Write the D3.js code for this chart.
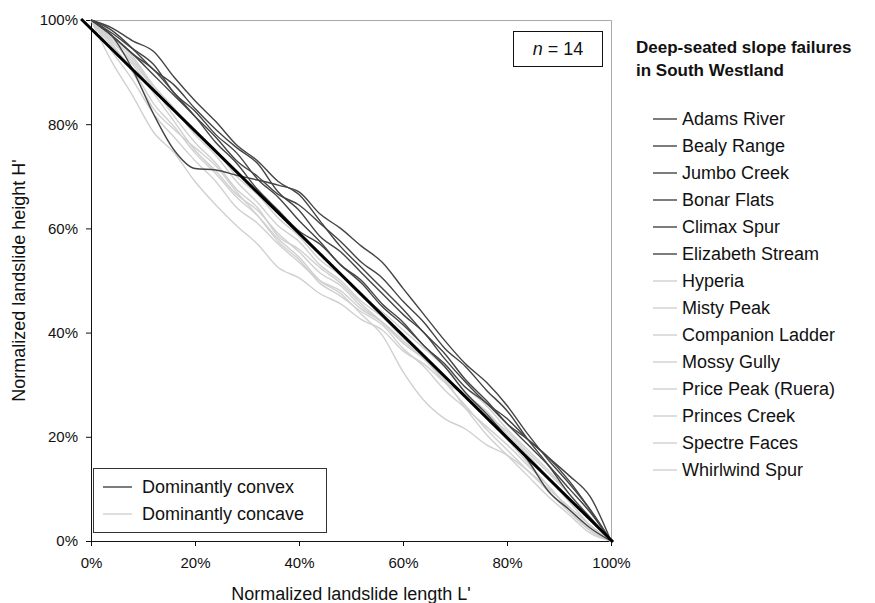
<!DOCTYPE html>
<html lang="en">
<head>
  <meta charset="utf-8">
  <title>Deep-seated slope failures</title>
  <script src="https://d3js.org/d3.v7.min.js"></script>
  <style>
    body { margin: 0; background: #fff; }
    text { font-family: Arial, "Liberation Sans", sans-serif; fill: #111; }
    path.profile { fill: none; }
  </style>
</head>
<body>
<script>
// shared x positions (normalized length L', %)
var xs = [0, 4, 8, 12, 16, 20, 24, 28, 32, 36, 40, 44, 48, 52, 56, 60, 64, 68, 72, 76, 80, 84, 88, 92, 96, 100];

// dominantly convex profiles (H', %)
var adamsRiver      = [100, 98.5, 96, 94, 89, 84.5, 80.5, 76, 73, 69, 66.5, 61.5, 56.5, 52.5, 48.5, 44.5, 40, 36, 31, 27, 22.5, 18.5, 14.5, 10, 5.5, 0];
var bealyRange      = [100, 98, 94.5, 90.5, 87.5, 83, 79, 75.5, 72.5, 67, 63.5, 58.5, 55.5, 51.5, 47.5, 43.5, 40, 35, 30.5, 26.5, 23.5, 19.5, 16, 11.5, 6, 0];
var jumboCreek      = [100, 97, 93.5, 89.5, 85.5, 81.5, 77.5, 73, 70, 66.5, 64.5, 61, 57.5, 53.5, 50.5, 46, 42, 37, 33.5, 29, 25, 19.5, 14.5, 9, 4.5, 0];
var bonarFlats      = [100, 97.5, 94.5, 91.5, 86, 82.5, 78, 74.5, 69.5, 66, 61.5, 57.5, 53, 50, 45.5, 42, 37.5, 34, 29.5, 26.5, 22.5, 19.5, 16, 12.5, 8.5, 0];
var climaxSpur      = [100, 97, 93.5, 90.5, 86, 81.5, 76.5, 72.5, 67.5, 63.5, 59.5, 57, 53, 49.5, 45, 41.5, 37.5, 33.5, 28.5, 24.5, 20, 15.5, 9.5, 6, 2.5, 0];
var elizabethStream = [100, 97, 90.5, 82, 75, 71.5, 71.2, 70.2, 69.3, 68.3, 67, 62.8, 60, 56.6, 53.5, 48.5, 43.5, 38.5, 34, 30.5, 26, 20.5, 15.5, 11, 6, 0];

// dominantly concave profiles (H', %)
var hyperia         = [100, 92, 85.5, 78.5, 74.5, 69, 64.5, 60.5, 57, 52.5, 50.5, 47.5, 45.5, 42.5, 40.5, 36.5, 34, 30.5, 28, 25, 20.5, 16.5, 12, 7.5, 3, 0];
var mistyPeak       = [100, 95, 90.5, 84, 79.5, 74.5, 70.5, 66, 62.5, 58, 54.5, 50, 47.5, 43.5, 39.5, 32.5, 27, 23.5, 21.5, 18.5, 16.5, 13.5, 10, 6.5, 3, 0];
var companionLadder = [100, 96, 91.5, 86, 80.5, 75, 71, 66.5, 63.5, 59, 55.5, 51.5, 49, 45, 42, 38, 35, 30.5, 26, 21.5, 17.5, 13.5, 9.5, 5.5, 2, 0];
var mossyGully      = [100, 97, 93, 87.5, 83, 78, 74, 69, 65, 60.5, 57.5, 53, 50, 46, 43, 39, 35.5, 31.5, 28, 23.5, 19.5, 15, 10.5, 6, 2, 0];
var pricePeak       = [100, 94, 88.5, 82, 77.5, 73, 69, 64, 61, 57, 53.5, 50, 48, 44.5, 42, 38.5, 35, 31, 25.5, 20.5, 16.5, 12.5, 8.5, 5, 1.5, 0];
var princesCreek    = [100, 96.5, 92.5, 87, 81.5, 76.5, 72.5, 67.5, 64, 58.5, 56, 52.5, 49.5, 45.5, 42, 38, 35, 31.5, 28, 24.5, 21, 17, 13, 9, 4.5, 0];
var spectreFaces    = [100, 95.5, 90, 83, 79, 75.5, 72, 67, 62.5, 57.5, 54, 49.5, 47, 44, 41.5, 37, 33.5, 29, 25.5, 22, 18.5, 14.5, 10.5, 6, 2.5, 0];
var whirlwindSpur   = [100, 96, 92, 87, 83, 78.5, 75, 70, 66.5, 62, 58.5, 54, 51, 47, 44, 40.5, 37, 33.5, 29.5, 26, 21.5, 17.5, 13.5, 9, 4.5, 0];

// mean trend line
var trendX = [-1.9, 100.4];
var trendY = [100.2, -0.2];

var convexNames  = ['Adams River', 'Bealy Range', 'Jumbo Creek', 'Bonar Flats', 'Climax Spur', 'Elizabeth Stream'];
var convexValues = [adamsRiver, bealyRange, jumboCreek, bonarFlats, climaxSpur, elizabethStream];
var concaveNames  = ['Hyperia', 'Misty Peak', 'Companion Ladder', 'Mossy Gully', 'Price Peak (Ruera)', 'Princes Creek', 'Spectre Faces', 'Whirlwind Spur'];
var concaveValues = [hyperia, mistyPeak, companionLadder, mossyGully, pricePeak, princesCreek, spectreFaces, whirlwindSpur];

var tickValues = [0, 20, 40, 60, 80, 100];

var darkColor = '#444';
var lightColor = '#d0d0d0';

var w = 875, h = 603;
var plotLeft = 91, plotRight = 611, plotTop = 20, plotBottom = 541;

var svg = d3.select('body').append('svg')
  .attr('width', w)
  .attr('height', h);

var x = d3.scaleLinear().domain([0, 100]).range([plotLeft, plotRight]);
var y = d3.scaleLinear().domain([0, 100]).range([plotBottom, plotTop]);

// plot frame (top and right in grey)
svg.append('path')
  .attr('class', 'profile')
  .attr('d', 'M' + x(0) + ',' + (y(100) + 0.5) + 'H' + (x(100) + 0.5) + 'V' + y(0))
  .attr('stroke', '#a8a8a8')
  .attr('stroke-width', 1);

// axes
var xAxis = d3.axisBottom(x).tickValues(tickValues).tickSize(5).tickPadding(11)
  .tickFormat(function(d) { return d + '%'; });
var yAxis = d3.axisLeft(y).tickValues(tickValues).tickSize(5).tickPadding(8)
  .tickFormat(function(d) { return d + '%'; });

var gx = svg.append('g').attr('transform', 'translate(0,' + y(0) + ')').call(xAxis);
var gy = svg.append('g').attr('transform', 'translate(' + x(0) + ',0)').call(yAxis);
[gx, gy].forEach(function(g) {
  g.select('.domain').attr('stroke', '#111');
  g.selectAll('.tick line').attr('stroke', '#111');
  g.selectAll('.tick text').style('font-size', '15px').attr('fill', '#111');
});

// profiles
var line = d3.line()
  .x(function(d) { return x(d[0]); })
  .y(function(d) { return y(d[1]); })
  .curve(d3.curveMonotoneX);

function pairs(vals) {
  return vals.map(function(v, i) { return [xs[i], v]; });
}

svg.append('g').selectAll('path')
  .data(concaveValues)
  .enter().append('path')
  .attr('class', 'profile')
  .attr('d', function(d) { return line(pairs(d)); })
  .attr('stroke', lightColor)
  .attr('stroke-width', 1.4);

svg.append('g').selectAll('path')
  .data(convexValues)
  .enter().append('path')
  .attr('class', 'profile')
  .attr('d', function(d) { return line(pairs(d)); })
  .attr('stroke', darkColor)
  .attr('stroke-width', 1.4);

svg.append('path')
  .attr('class', 'profile')
  .attr('d', d3.line()(trendX.map(function(v, i) { return [x(v), y(trendY[i])]; })))
  .attr('stroke', '#000')
  .attr('stroke-width', 3);

// n box
svg.append('rect')
  .attr('x', 513.5).attr('y', 31.5).attr('width', 89).attr('height', 35)
  .attr('fill', '#fff').attr('stroke', '#111');
var nText = svg.append('text')
  .attr('x', 558).attr('y', 55)
  .attr('text-anchor', 'middle')
  .style('font-size', '18px');
nText.append('tspan').style('font-style', 'italic').text('n');
nText.append('tspan').text(' = 14');

// inner legend
svg.append('rect')
  .attr('x', 93.5).attr('y', 468.5).attr('width', 233).attr('height', 64)
  .attr('fill', '#fff').attr('stroke', '#333');
var inner = [['Dominantly convex', darkColor], ['Dominantly concave', lightColor]];
inner.forEach(function(d, i) {
  var cy = 487 + i * 27;
  svg.append('line')
    .attr('x1', 103).attr('x2', 132).attr('y1', cy).attr('y2', cy)
    .attr('stroke', d[1]).attr('stroke-width', 1.4);
  svg.append('text')
    .attr('x', 142).attr('y', cy + 6)
    .style('font-size', '18px')
    .text(d[0]);
});

// right legend
svg.append('text')
  .attr('x', 636).attr('y', 53)
  .style('font-size', '17px').style('font-weight', 'bold')
  .text('Deep-seated slope failures');
svg.append('text')
  .attr('x', 636).attr('y', 76)
  .style('font-size', '17px').style('font-weight', 'bold')
  .text('in South Westland');

var legendItems = convexNames.map(function(n) { return [n, darkColor]; })
  .concat(concaveNames.map(function(n) { return [n, lightColor]; }));
legendItems.forEach(function(d, i) {
  var cy = 119 + i * 27;
  svg.append('line')
    .attr('x1', 653).attr('x2', 677).attr('y1', cy).attr('y2', cy)
    .attr('stroke', d[1]).attr('stroke-width', 1.4);
  svg.append('text')
    .attr('x', 682).attr('y', cy + 6)
    .style('font-size', '18px')
    .text(d[0]);
});

// axis titles
svg.append('text')
  .attr('x', (plotLeft + plotRight) / 2).attr('y', 600)
  .attr('text-anchor', 'middle')
  .style('font-size', '18px')
  .text("Normalized landslide length L'");
svg.append('text')
  .attr('transform', 'translate(25,' + ((plotTop + plotBottom) / 2) + ') rotate(-90)')
  .attr('text-anchor', 'middle')
  .style('font-size', '18px')
  .text("Normalized landslide height H'");
</script>
</body>
</html>
